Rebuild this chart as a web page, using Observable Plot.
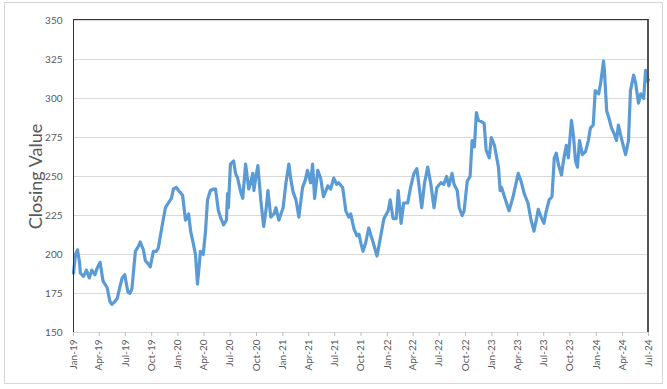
<!DOCTYPE html>
<html>
<head>
<meta charset="utf-8">
<script src="https://cdn.jsdelivr.net/npm/d3@7"></script>
<script src="https://cdn.jsdelivr.net/npm/@observablehq/plot@0.6"></script>
<style>
  html, body { margin: 0; padding: 0; background: #fff; }
  #wrap { position: relative; width: 667px; height: 389px; overflow: hidden; }
  #border { position: absolute; left: 4px; top: 2px; width: 657px; height: 380px; border: 1px solid #d6d6d6; }
  #chart { position: absolute; left: 0; top: 0; }
  #plotframe { position: absolute; left: 73px; top: 19px; width: 576px; height: 313px; box-sizing: border-box;
    border-top: 1px solid #333; border-left: 1px solid #333; border-right: 2px solid #555; pointer-events: none; }
</style>
</head>
<body>
<div id="wrap"><div id="border"></div><div id="chart"></div><div id="plotframe"></div></div>
<script>
const dates = [
"2019-01-01","2019-01-08","2019-01-15","2019-01-22","2019-01-25","2019-02-05","2019-02-15","2019-02-25","2019-03-06","2019-03-17","2019-03-24",
"2019-04-04","2019-04-14","2019-04-28","2019-05-08","2019-05-15","2019-05-26","2019-06-03","2019-06-13","2019-06-20","2019-06-29",
"2019-07-10","2019-07-17","2019-07-24","2019-08-05","2019-08-15","2019-08-22","2019-09-02","2019-09-09","2019-09-19","2019-09-26",
"2019-10-07","2019-10-17","2019-10-24","2019-11-08","2019-11-18","2019-11-28","2019-12-09","2019-12-16","2019-12-26",
"2020-01-03","2020-01-17","2020-01-27","2020-02-07","2020-02-14","2020-02-21","2020-03-02","2020-03-09","2020-03-16","2020-03-19","2020-03-29",
"2020-04-06","2020-04-13","2020-04-23","2020-05-04","2020-05-11","2020-05-21","2020-05-28","2020-06-08","2020-06-18","2020-06-22","2020-06-25",
"2020-07-02","2020-07-13","2020-07-20","2020-07-27","2020-08-07","2020-08-14","2020-08-24","2020-09-04","2020-09-11","2020-09-18","2020-09-22","2020-09-29",
"2020-10-06","2020-10-16","2020-10-26","2020-11-03","2020-11-10","2020-11-20","2020-12-01","2020-12-08","2020-12-18",
"2021-01-02","2021-01-12","2021-01-22","2021-01-29","2021-02-06","2021-02-16","2021-02-26","2021-03-11","2021-03-21","2021-03-28",
"2021-04-08","2021-04-15","2021-04-22","2021-05-03","2021-05-13","2021-05-23","2021-06-07","2021-06-17","2021-06-28",
"2021-07-08","2021-07-15","2021-07-29","2021-08-09","2021-08-19","2021-08-26","2021-09-07","2021-09-17","2021-09-24",
"2021-10-01","2021-10-08","2021-10-18","2021-10-28","2021-11-05","2021-11-12","2021-11-26","2021-12-10","2021-12-20",
"2022-01-04","2022-01-11","2022-01-21","2022-02-01","2022-02-08","2022-02-18","2022-02-27","2022-03-13","2022-03-23",
"2022-04-04","2022-04-14","2022-04-21","2022-05-01","2022-05-11","2022-05-22","2022-06-02","2022-06-13","2022-06-23",
"2022-07-07","2022-07-17","2022-07-27","2022-08-04","2022-08-15","2022-08-22","2022-09-02","2022-09-09","2022-09-19","2022-09-26",
"2022-10-07","2022-10-17","2022-10-24","2022-11-01","2022-11-08","2022-11-15","2022-11-28","2022-12-05","2022-12-12","2022-12-23","2022-12-30",
"2023-01-10","2023-01-24","2023-01-30","2023-02-04","2023-02-14","2023-03-02","2023-03-16",
"2023-04-03","2023-04-13","2023-04-24","2023-05-07","2023-05-18","2023-05-28","2023-06-05","2023-06-12","2023-06-22",
"2023-07-02","2023-07-09","2023-07-20","2023-07-30","2023-08-07","2023-08-14","2023-08-21","2023-09-01","2023-09-08","2023-09-18","2023-09-25",
"2023-10-06","2023-10-13","2023-10-20","2023-10-27","2023-11-03","2023-11-13","2023-11-24","2023-12-04","2023-12-11","2023-12-21","2023-12-28",
"2024-01-09","2024-01-16","2024-01-26","2024-01-29","2024-02-06","2024-02-13","2024-02-23","2024-03-04","2024-03-11","2024-03-18","2024-03-25",
"2024-04-05","2024-04-12","2024-04-22","2024-04-29","2024-05-10","2024-05-17","2024-05-27","2024-06-04","2024-06-14","2024-06-21","2024-06-28","2024-07-01"
];
const closes = [
188,200,203,195,188,186,190,185,190,187,191,
195,183,179,170,168,170,172,180,185,187,
176,175,178,202,205,208,203,196,194,192,
202,202,204,220,230,233,236,242,243,
241,238,222,226,215,209,200,181,195,202,200,
215,235,241,242,242,228,224,219,222,239,230,
258,260,252,249,240,236,258,242,246,252,241,250,
257,235,218,228,241,224,226,230,222,
230,246,258,248,240,235,224,243,248,254,
246,258,236,254,249,237,244,242,249,
245,246,243,228,224,226,216,212,213,
207,202,208,217,212,208,199,213,223,
228,235,223,223,241,220,233,233,243,
252,255,245,230,246,256,245,230,243,
246,245,250,244,252,245,241,230,225,228,
247,250,273,269,291,286,285,284,267,262,275,
270,256,241,243,237,228,237,
252,247,239,233,222,215,222,229,224,
220,227,235,237,262,265,258,251,260,270,262,
286,276,260,256,273,264,266,273,281,283,305,
303,310,324,318,292,288,281,277,273,283,277,
269,264,273,305,315,310,297,303,300,318,311,312
];
const yTicks = [150,175,200,225,250,275,300,325,350];
const xStart = "2019-01-01", xEnd = "2024-07-01";

const rows = dates.map((d, i) => ({date: new Date(d), close: closes[i]}));
const x0 = new Date(xStart), x1 = new Date(xEnd);
const xTicks = d3.utcMonth.every(3).range(x0, d3.utcDay.offset(x1, 1));
const fmt = d3.utcFormat("%b-%y");
const yMin = yTicks[0], yMax = yTicks[yTicks.length - 1];

const textColor = "#595959";
const chart = Plot.plot({
  width: 667,
  height: 389,
  marginLeft: 73,
  marginRight: 19,
  marginTop: 20,
  marginBottom: 57,
  style: {fontFamily: "Lato, 'Open Sans', sans-serif", fontSize: "10px", color: textColor, background: "transparent"},
  x: {type: "utc", domain: [x0, x1]},
  y: {domain: [yMin, yMax]},
  marks: [
    Plot.gridY(yTicks, {stroke: "#d9d9d9", strokeOpacity: 1, strokeWidth: 1}),
    Plot.axisY(yTicks, {tickSize: 0, tickPadding: 11, fill: textColor, fontSize: 10,
      label: "Closing Value", labelAnchor: "center", labelOffset: 44, labelArrow: "none"}),
    Plot.axisX(xTicks, {tickFormat: fmt, tickRotate: -90, tickSize: 4, tickPadding: 3,
      stroke: "#bfbfbf", fill: textColor, fontSize: 10, label: null}),
    Plot.line(rows, {x: "date", y: "close", stroke: "#5b9bd5", strokeWidth: 3.2, strokeLinejoin: "round"})
  ]
});
chart.querySelectorAll("[aria-label='y-axis label'] text").forEach(t => {
  t.setAttribute("font-size", "18px");
  t.setAttribute("fill", textColor);
});
document.getElementById("chart").appendChild(chart);
</script>
</body>
</html>
